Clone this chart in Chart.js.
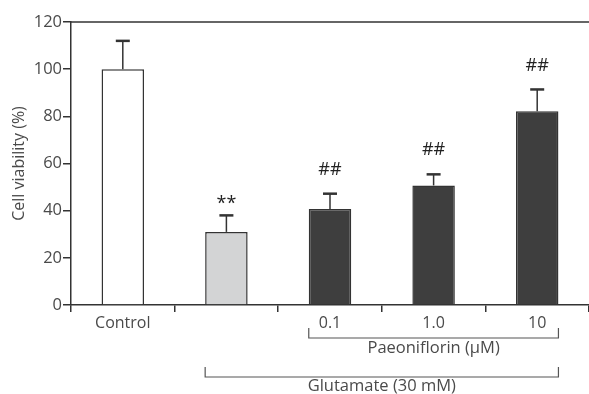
<!DOCTYPE html>
<html>
<head>
<meta charset="utf-8">
<script src="https://cdn.jsdelivr.net/npm/chart.js@4/dist/chart.umd.min.js"></script>
<style>
  html, body { margin: 0; padding: 0; background: #fff; }
  #wrap { width: 589px; height: 394px; }
</style>
</head>
<body>
<div id="wrap"><canvas id="viability"></canvas></div>
<script>
const labels = ['Control', '', '0.1', '1.0', '10'];
const viability = [100, 31, 40.7, 50.7, 82.2];
const sem = [12, 7, 6.5, 4.7, 9.2];
const marks = ['', '**', '##', '##', '##'];
const barColors = ['#ffffff', '#d3d4d5', '#3e3e3e', '#3e3e3e', '#3e3e3e'];

const ink = '#333333';
const textColor = '#4a4a4a';
const fontFamily = '"Open Sans", "Noto Sans", sans-serif';

// error bars, significance marks, top border and group brackets
const extras = {
  id: 'extras',
  afterDatasetsDraw(chart) {
    const ctx = chart.ctx;
    const meta = chart.getDatasetMeta(0);
    const y = chart.scales.y;
    const area = chart.chartArea;
    ctx.save();

    // top line
    ctx.strokeStyle = ink;
    ctx.lineWidth = 1.5;
    ctx.beginPath();
    ctx.moveTo(area.left, area.top);
    ctx.lineTo(area.right, area.top);
    ctx.stroke();

    meta.data.forEach((bar, i) => {
      const top = y.getPixelForValue(viability[i] + sem[i]);
      ctx.strokeStyle = ink;
      ctx.lineWidth = 1.5;
      ctx.beginPath();
      ctx.moveTo(bar.x, bar.y);
      ctx.lineTo(bar.x, top);
      ctx.stroke();
      ctx.lineWidth = 2.5;
      ctx.beginPath();
      ctx.moveTo(bar.x - 7, top);
      ctx.lineTo(bar.x + 7, top);
      ctx.stroke();
      if (marks[i]) {
        ctx.fillStyle = '#222';
        ctx.font = '18px ' + fontFamily;
        ctx.textAlign = 'center';
        ctx.textBaseline = 'middle';
        ctx.fillText(marks[i], bar.x, top - (marks[i] === '**' ? 12 : 24));
      }
    });

    // brackets
    const bracket = (x0, x1, yLine, text, dy) => {
      ctx.strokeStyle = '#555';
      ctx.lineWidth = 1.2;
      ctx.beginPath();
      ctx.moveTo(x0, yLine - 10);
      ctx.lineTo(x0, yLine);
      ctx.lineTo(x1, yLine);
      ctx.lineTo(x1, yLine - 10);
      ctx.stroke();
      ctx.fillStyle = textColor;
      ctx.font = '16.5px ' + fontFamily;
      ctx.textAlign = 'center';
      ctx.textBaseline = 'middle';
      ctx.fillText(text, (x0 + x1) / 2, yLine + dy);
    };
    const b = meta.data;
    const half = b[2].width / 2;
    bracket(b[2].x - half, b[4].x + half, 338, 'Paeoniflorin (\u03bcM)', 10);
    bracket(b[1].x - half, b[4].x + half, 377, 'Glutamate (30 mM)', 9);

    ctx.restore();
  }
};

new Chart(document.getElementById('viability'), {
  type: 'bar',
  data: {
    labels: labels,
    datasets: [{
      data: viability,
      backgroundColor: barColors,
      borderColor: ink,
      borderWidth: 1.5,
      borderSkipped: 'bottom',
      barPercentage: 0.41,
      categoryPercentage: 1
    }]
  },
  options: {
    responsive: true,
    maintainAspectRatio: false,
    animation: false,
    layout: { padding: { top: 22, right: 0, left: 0, bottom: 0 } },
    plugins: {
      legend: { display: false },
      tooltip: { enabled: false }
    },
    scales: {
      x: {
        offset: true,
        afterFit(scale) { scale.height = 89; },
        border: { color: ink, width: 1.5 },
        grid: { offset: true, drawOnChartArea: false, tickLength: 7, color: ink, lineWidth: 1.5 },
        ticks: { color: textColor, padding: 2, font: { family: fontFamily, size: 16 } }
      },
      y: {
        min: 0,
        max: 120,
        afterFit(scale) { scale.width = 71; },
        border: { color: ink, width: 1.5 },
        grid: { drawOnChartArea: false, tickLength: 8, color: ink, lineWidth: 1.5 },
        ticks: { stepSize: 20, color: textColor, padding: 1, font: { family: fontFamily, size: 16.5 } },
        title: {
          display: true,
          text: 'Cell viability (%)',
          color: textColor,
          padding: { top: 10, bottom: 2 },
          font: { family: fontFamily, size: 16 }
        }
      }
    }
  },
  plugins: [extras]
});
</script>
</body>
</html>
